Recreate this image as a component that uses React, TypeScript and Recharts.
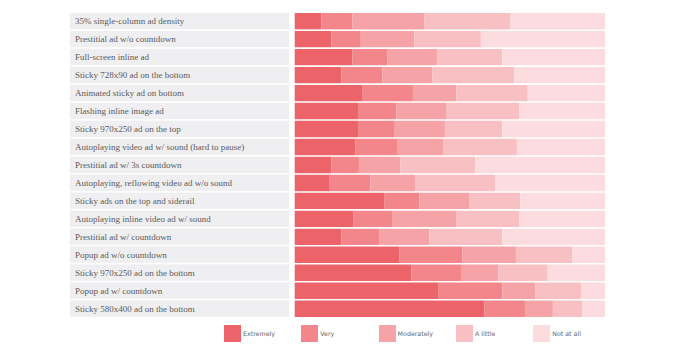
import { Bar, BarChart, XAxis, YAxis } from "recharts";

const categories = [
  "35% single-column ad density",
  "Prestitial ad w/o countdown",
  "Full-screen inline ad",
  "Sticky 728x90 ad on the bottom",
  "Animated sticky ad on bottom",
  "Flashing inline image ad",
  "Sticky 970x250 ad on the top",
  "Autoplaying video ad w/ sound (hard to pause)",
  "Prestitial ad w/ 3s countdown",
  "Autoplaying, reflowing video ad w/o sound",
  "Sticky ads on the top and siderail",
  "Autoplaying inline video ad w/ sound",
  "Prestitial ad w/ countdown",
  "Popup ad w/o countdown",
  "Sticky 970x250 ad on the bottom",
  "Popup ad w/ countdown",
  "Sticky 580x400 ad on the bottom",
];

const extremely = [8.6, 11.8, 18.6, 15.0, 21.7, 20.4, 20.4, 19.5, 11.8, 11.3, 29.0, 19.0, 15.0, 33.8, 37.6, 46.4, 61.2];
const very = [10.0, 9.5, 11.2, 13.2, 16.4, 12.4, 11.6, 13.7, 8.9, 13.1, 11.2, 12.6, 12.2, 20.3, 16.0, 20.5, 13.0];
const moderately = [23.1, 17.2, 16.1, 16.2, 14.0, 16.2, 16.4, 14.6, 13.3, 14.4, 16.2, 20.6, 16.2, 17.2, 12.0, 10.7, 9.0];
const aLittle = [27.7, 21.5, 21.0, 26.3, 23.0, 23.3, 18.5, 23.8, 24.2, 25.8, 16.3, 20.1, 23.5, 18.1, 15.9, 14.7, 9.4];
const notAtAll = [30.6, 40.0, 33.1, 29.3, 24.9, 27.7, 33.1, 28.4, 41.8, 35.4, 27.3, 27.7, 33.1, 10.6, 18.5, 7.7, 7.4];

const seriesNames = ["Extremely", "Very", "Moderately", "A little", "Not at all"];
const seriesKeys = ["extremely", "very", "moderately", "aLittle", "notAtAll"];
const colors = ["#ec6469", "#f2868a", "#f6a3a7", "#f9c0c3", "#fddcdf"];

const data = categories.map((name, i) => ({
  name,
  extremely: extremely[i],
  very: very[i],
  moderately: moderately[i],
  aLittle: aLittle[i],
  notAtAll: notAtAll[i],
}));

function LabelTick(props: any) {
  const { y, payload } = props;
  const h = 16.4;
  return (
    <g>
      <rect x={70} y={y - h / 2} width={219} height={h} fill="#efeff1" />
      <text
        x={75}
        y={y}
        dy={3.2}
        fontFamily="'Liberation Serif', serif"
        fontSize={9}
        fill="#5a5a5a"
      >
        {payload.value}
      </text>
    </g>
  );
}

// legend sits under the plot, same layout as the original
function ChartLegend() {
  return (
    <div style={{ position: "absolute", left: 0, top: 325, width: 700, height: 18 }}>
      {seriesNames.map((n, i) => (
        <div
          key={n}
          style={{
            position: "absolute",
            left: 224 + i * 77.3,
            top: 0,
            display: "flex",
            alignItems: "center",
          }}
        >
          <div style={{ width: 17, height: 17, background: colors[i] }} />
          <span
            style={{
              marginLeft: 2,
              fontFamily: "'DejaVu Sans', sans-serif",
              fontSize: 6.3,
              color: "#666",
            }}
          >
            {n}
          </span>
        </div>
      ))}
    </div>
  );
}

export default function App() {
  return (
    <div style={{ position: "absolute", left: 0, top: 0, width: 700, height: 350, background: "#fff" }}>
      <BarChart
        width={700}
        height={350}
        data={data}
        layout="vertical"
        margin={{ top: 12, right: 95, left: 70, bottom: 32.5 }}
        barSize={16.4}
      >
        <XAxis type="number" domain={[0, 100]} hide />
        <YAxis
          type="category"
          dataKey="name"
          width={224.7}
          axisLine={false}
          tickLine={false}
          tick={<LabelTick />}
          interval={0}
        />
        {seriesKeys.map((k, i) => (
          <Bar
            key={k}
            dataKey={k}
            name={seriesNames[i]}
            stackId="a"
            fill={colors[i]}
            isAnimationActive={false}
          />
        ))}
      </BarChart>
      <ChartLegend />
    </div>
  );
}
